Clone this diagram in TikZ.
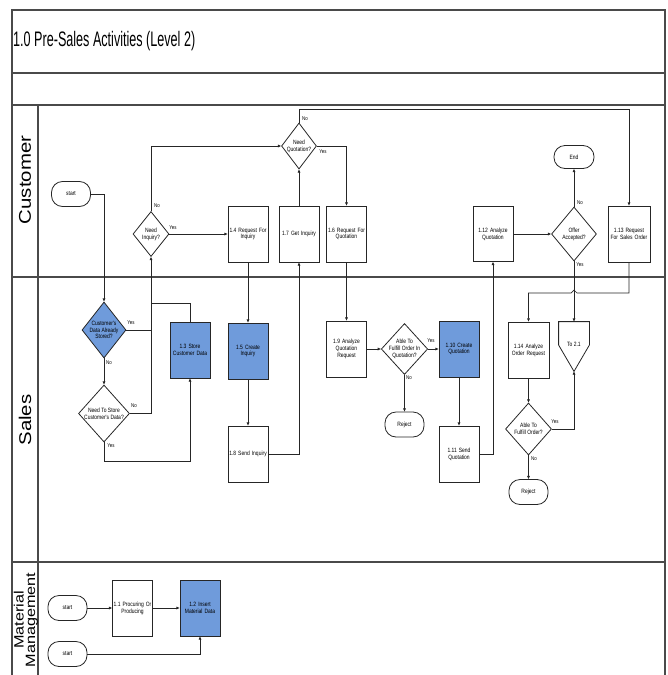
\documentclass[tikz,border=0pt]{standalone}
\usepackage{fontspec}
\setmainfont{Liberation Sans}
\newfontfamily\nodefont[FakeStretch=0.8]{Liberation Sans}
\newfontfamily\titlefont[FakeStretch=0.6]{Liberation Sans}
\newfontfamily\lanefont[FakeStretch=1.2]{Liberation Sans}
\usetikzlibrary{arrows.meta,positioning,shapes.geometric}
\definecolor{psblue}{HTML}{6F9BDB}
\definecolor{psink}{HTML}{262626}
\definecolor{psframe}{HTML}{4A4A4A}
\tikzset{
  bx/.style={draw=psink, line width=0.8pt, align=center, font=\nodefont\fontsize{6.2}{6.8}\selectfont, inner sep=1pt},
  proc/.style={bx, minimum width=40pt, minimum height=56pt, text width=38pt},
  procb/.style={proc, fill=psblue},
  term/.style={bx, rounded corners=11pt, minimum width=39pt, minimum height=25pt},
  dec/.style={bx, diamond, inner sep=-1pt},
  decb/.style={dec, fill=psblue},
  yn/.style={font=\nodefont\fontsize{5.5}{6}\selectfont, inner sep=0pt},
  arr/.style={-{Triangle[length=3.2pt,width=2.6pt]}, line width=0.7pt, color=psink},
  ln/.style={line width=0.7pt, color=psink},
  rulefr/.style={draw=psframe, line width=1.2pt},
  lane/.style={font=\lanefont\fontsize{17}{17}\selectfont, rotate=90, align=center, inner sep=0pt},
}
\begin{document}
\begin{tikzpicture}[x=1pt, y=-1pt]
  \useasboundingbox (0,0) rectangle (668,675);
  % frame and lanes
  \draw[rulefr] (12,675) -- (12,10) -- (665,10) -- (665,675);
  \draw[rulefr] (12,73) -- (665,73);
  \draw[rulefr] (12,105) -- (665,105);
  \draw[rulefr] (12,277) -- (665,277);
  \draw[rulefr] (12,562) -- (665,562);
  \draw[rulefr] (38,105) -- (38,675);
  \node[anchor=west, font=\titlefont\fontsize{21}{24}\selectfont, inner sep=0pt] (ttl) at (13,41) {1.0 Pre-Sales Activities (Level 2)};
  \node[lane] (lcust) at (25,180) {Customer};
  \node[lane] (lsales) at (25,420) {Sales};
  \node[lane, font=\lanefont\fontsize{13.5}{11.5}\selectfont] (lmat) at (26,620) {Material\\Management};

  % customer
  \node[term] (stc) at (71,194) {start};
  \node[dec, minimum width=36pt, minimum height=45pt] (ninq) at (151,234) {Need\\Inquiry?};
  \node[proc] (r14) at (248,234) {1.4 Request For\\Inquiry};
  \node[proc] (g17) at (299,234) {1.7 Get Inquiry};
  \node[dec, minimum width=35pt, minimum height=46pt] (nquo) at (299,146) {Need\\Quotation?};
  \node[proc] (r16) at (346.5,234) {1.6 Request For\\Quotation};
  \node[proc, minimum height=55pt] (a112) at (493,234) {1.12 Analyze\\Quotation};
  \node[dec, minimum width=45pt, minimum height=54pt] (offr) at (574,234) {Offer\\Accepted?};
  \node[term, minimum width=40pt, minimum height=23pt] (endt) at (574,157) {End};
  \node[proc, minimum width=42pt, text width=40pt] (r113) at (629,234) {1.13 Request\\For Sales Order};

  % sales
  \node[decb, minimum width=44pt, minimum height=56pt] (dst) at (104,330) {Customer's\\Data Already\\Stored?};
  \node[dec, minimum width=51pt, minimum height=57pt] (nst) at (104,413.5) {Need To Store\\Customer's Data?};
  \node[procb] (s13) at (190,350) {1.3 Store\\Customer Data};
  \node[procb] (c15) at (248,351) {1.5 Create\\Inquiry};
  \node[proc] (s18) at (248,454) {1.8 Send Inquiry};
  \node[proc] (a19) at (346.5,349) {1.9 Analyze\\Quotation\\Request};
  \node[dec, minimum width=45pt, minimum height=51pt] (dfq) at (404.5,349) {Able To\\Fulfill Order In\\Quotation?};
  \node[term] (rj1) at (404.5,424.5) {Reject};
  \node[procb] (c110) at (459,349) {1.10 Create\\Quotation};
  \node[proc] (s111) at (459,454) {1.11 Send\\Quotation};
  \node[proc, minimum width=41pt] (a114) at (528.5,350) {1.14 Analyze\\Order Request};
  \node[dec, minimum width=46pt, minimum height=52pt] (dfo) at (528.5,429) {Able To\\Fulfill Order?};
  \node[term] (rj2) at (528.5,492) {Reject};
  \node[bx, draw=none, minimum width=30pt, minimum height=49pt] (t21) at (574,346.5) {\raisebox{5pt}{To 2.1}};
  \draw[ln, line width=0.8pt] (t21.north west) -- (t21.north east) -- ([yshift=1.5pt]t21.east) -- (t21.south) -- ([yshift=1.5pt]t21.west) -- cycle;

  % material management
  \node[term] (sm1) at (67.5,608) {start};
  \node[proc] (p11) at (132.5,608) {1.1 Procuring Or\\Producing};
  \node[procb] (i12) at (200,608) {1.2 Insert\\Material Data};
  \node[term] (sm2) at (67.5,654) {start};

  % connectors
  \coordinate (ctop) at (629,109);
  \coordinate (j13) at (151,303);
  \coordinate (hopr) at (577,293);
  \draw[arr] (stc.east) -| (dst.north);
  \draw[arr] (dst.south) -- (nst.north);
  \draw[ln] (dst.east) -- (dst.east -| ninq.south);
  \draw[ln] (s13.north) |- (j13);
  \draw[arr] (nst.east) -| (ninq.south);
  \draw[arr] (nst.south) -- ++(0,19) -| (s13.south);
  \draw[arr] (ninq.east) -- (r14.west);
  \draw[arr] (ninq.north) |- (nquo.west);
  \draw[arr] (nquo.north) |- (ctop) -- (r113.north);
  \draw[arr] (nquo.east) -| (r16.north);
  \draw[arr] (g17.north) -- (nquo.south);
  \draw[arr] (r14.south) -- (c15.north);
  \draw[arr] (c15.south) -- (s18.north);
  \draw[arr] (s18.east) -| (g17.south);
  \draw[arr] (r16.south) -- (a19.north);
  \draw[arr] (a19.east) -- (dfq.west);
  \draw[arr] (dfq.east) -- (c110.west);
  \draw[arr] (dfq.south) -- (rj1.north);
  \draw[arr] (c110.south) -- (s111.north);
  \draw[arr] (s111.east) -| (a112.south);
  \draw[arr] (a112.east) -- (offr.west);
  \draw[arr] (offr.north) -- (endt.south);
  \draw[arr] (offr.south) -- (t21.north);
  \draw[arr] (r113.south) |- (hopr) -- ++(-3,-3) -- ++(-3,3) -| (a114.north);
  \draw[arr] (a114.south) -- (dfo.north);
  \draw[arr] (dfo.east) -| (t21.south);
  \draw[arr] (dfo.south) -- (rj2.north);
  \draw[arr] (sm1.east) -- (p11.west);
  \draw[arr] (p11.east) -- (i12.west);
  \draw[arr] (sm2.east) -| (i12.south);

  % yes / no
  \node[yn] (y1) at (157,206) {No};
  \node[yn] (y2) at (173,228) {Yes};
  \node[yn] (y3) at (305,119) {No};
  \node[yn] (y4) at (323,152) {Yes};
  \node[yn] (y5) at (131,323) {Yes};
  \node[yn] (y6) at (109,363) {No};
  \node[yn] (y7) at (134,406) {No};
  \node[yn] (y8) at (111,446) {Yes};
  \node[yn] (y9) at (431,341) {Yes};
  \node[yn] (y10) at (409,378) {No};
  \node[yn] (y11) at (580,203) {No};
  \node[yn] (y12) at (580,265) {Yes};
  \node[yn] (y13) at (555,422) {Yes};
  \node[yn] (y14) at (534,459) {No};
\end{tikzpicture}
\end{document}
